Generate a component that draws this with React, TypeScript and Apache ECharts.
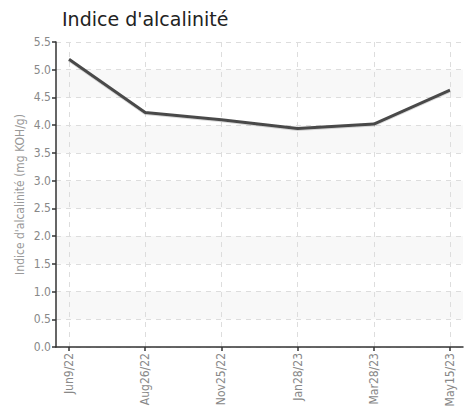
import React, { useEffect, useRef } from "react";
import * as echarts from "echarts";

const categories = ["Jun9/22", "Aug26/22", "Nov25/22", "Jan28/23", "Mar28/23", "May15/23"];
const values = [5.19, 4.23, 4.1, 3.94, 4.02, 4.63];
const yMin = 0;
const yMax = 5.5;
const yInterval = 0.5;
const titleText = "Indice d'alcalinité";
const yAxisName = "Indice d'alcalinité (mg KOH/g)";

const condensed = "'DejaVu Sans Condensed', 'Liberation Sans Narrow', 'Roboto Condensed', sans-serif";

export default function App() {
  const ref = useRef<HTMLDivElement>(null);
  useEffect(() => {
    if (!ref.current) return;
    const chart = echarts.init(ref.current, null, { renderer: "svg" });
    chart.setOption({
      animation: false,
      title: {
        text: titleText,
        left: 57,
        top: 4,
        textStyle: { fontSize: 19, fontWeight: "normal", color: "#222", fontFamily: "'DejaVu Sans', sans-serif" },
      },
      grid: [
        { left: 56, right: 9, top: 42, bottom: 68 },
        { left: 69, right: 22, top: 42, bottom: 68 },
      ],
      xAxis: [
        {
          type: "value",
          gridIndex: 0,
          min: 0,
          max: 1,
          axisLine: { show: true, lineStyle: { color: "#333", width: 1.5 } },
          axisTick: { show: false },
          axisLabel: { show: false },
          splitLine: { show: false },
          z: 5,
        },
        {
          type: "category",
          gridIndex: 1,
          data: categories,
          boundaryGap: false,
          axisLine: { show: false },
          axisTick: { show: true, length: 4, lineStyle: { color: "#333", width: 1.5 } },
          axisLabel: {
            rotate: 90,
            color: "#888",
            fontSize: 12,
            margin: 6,
            fontFamily: condensed,
          },
          splitLine: { show: true, lineStyle: { color: "#ddd", type: [5, 5], width: 1 } },
        },
      ],
      yAxis: [
        {
          type: "value",
          gridIndex: 0,
          min: yMin,
          max: yMax,
          interval: yInterval,
          name: yAxisName,
          nameLocation: "middle",
          nameGap: 30,
          nameMoveOverlap: false,
          nameTextStyle: { color: "#999", fontSize: 12, fontFamily: condensed },
          axisLine: { show: true, lineStyle: { color: "#333", width: 1.5 } },
          axisTick: { show: true, length: 4, lineStyle: { color: "#333", width: 1.5 } },
          axisLabel: {
            color: "#888",
            fontSize: 12,
            margin: 5,
            fontFamily: condensed,
            formatter: (v: number) => v.toFixed(1),
          },
          splitLine: { show: true, lineStyle: { color: "#ddd", type: [5, 5], width: 1 } },
          splitArea: { show: true, areaStyle: { color: ["rgba(255,255,255,0)", "#f8f8f8"] } },
        },
        {
          type: "value",
          gridIndex: 1,
          min: yMin,
          max: yMax,
          interval: yInterval,
          show: false,
          splitLine: { show: false },
        },
      ],
      series: [
        {
          type: "line",
          xAxisIndex: 1,
          yAxisIndex: 1,
          data: values,
          showSymbol: false,
          symbol: "none",
          lineStyle: { color: "#4a4a4a", width: 3, shadowColor: "rgba(0,0,0,0.15)", shadowBlur: 1, shadowOffsetY: 1 },
          z: 10,
        },
      ],
    });
    return () => chart.dispose();
  }, []);
  return <div ref={ref} style={{ width: 472, height: 415, margin: -8 }} />;
}
